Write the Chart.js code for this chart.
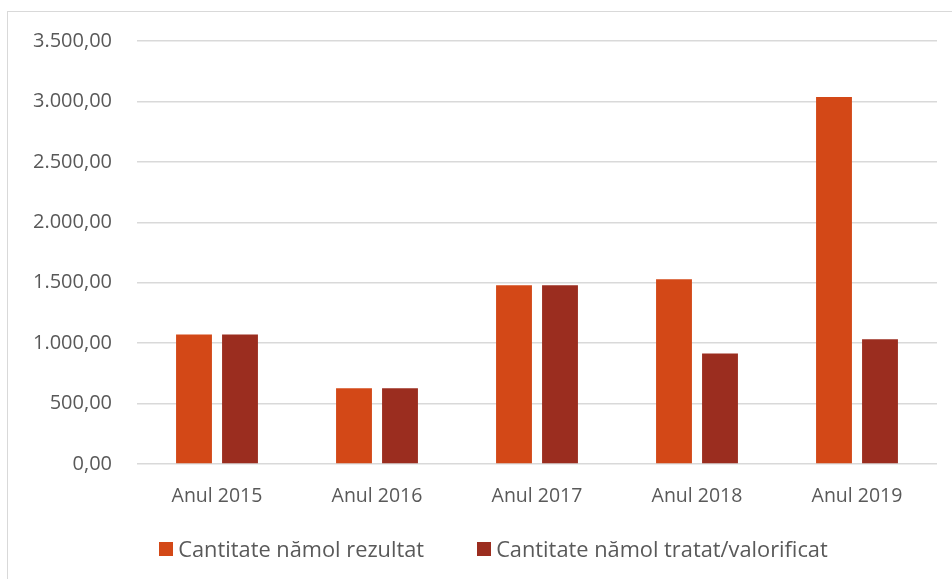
<!DOCTYPE html>
<html>
<head>
<meta charset="utf-8">
<script src="https://cdn.jsdelivr.net/npm/chart.js@4"></script>
<style>
    body { margin: 0; background: #fff; overflow: hidden; font-family: "Open Sans", sans-serif; }
    .frame { position: absolute; left: 7px; top: 11px; width: 1000px; height: 640px; border: 1px solid #d9d9d9; }
    .wrap { position: absolute; left: 0; top: 0; width: 952px; height: 579px; }
    #legend { position: absolute; left: 0; top: 536px; width: 987px; display: flex; justify-content: center; gap: 53px; color: #595959; font-size: 21.8px; line-height: 26px; }
    #legend .item { display: flex; align-items: center; white-space: nowrap; }
    #legend .box { width: 14px; height: 14px; margin-right: 5px; }
</style>
</head>
<body>
<div class="frame"></div>
<div class="wrap"><canvas id="namolChart" width="952" height="579"></canvas></div>
<div id="legend"></div>
<script>
const years = ['Anul 2015', 'Anul 2016', 'Anul 2017', 'Anul 2018', 'Anul 2019'];
const rezultat = [1072, 626, 1480, 1528, 3036];
const tratat = [1072, 626, 1480, 915, 1033];
const yTicks = [0, 500, 1000, 1500, 2000, 2500, 3000, 3500];

const textColor = '#595959';
const fontFamily = '"Open Sans", sans-serif';

// 3500 -> "3.500,00"
function fmt(v) {
    const parts = Number(v).toFixed(2).split('.');
    return parts[0].replace(/\B(?=(\d{3})+(?!\d))/g, '.') + ',' + parts[1];
}

const ctx = document.getElementById('namolChart').getContext('2d');
const chart = new Chart(ctx, {
    type: 'bar',
    data: {
        labels: years,
        datasets: [
            {
                label: 'Cantitate nămol rezultat',
                data: rezultat,
                backgroundColor: '#D34817',
                categoryPercentage: 0.575,
                barPercentage: 0.78
            },
            {
                label: 'Cantitate nămol tratat/valorificat',
                data: tratat,
                backgroundColor: '#9B2D1F',
                categoryPercentage: 0.575,
                barPercentage: 0.78
            }
        ]
    },
    options: {
        responsive: false,
        animation: false,
        layout: { padding: { left: 0, right: 15, top: 41, bottom: 65 } },
        plugins: {
            tooltip: { enabled: false },
            legend: { display: false }
        },
        scales: {
            y: {
                min: 0,
                max: 3500,
                afterBuildTicks: axis => { axis.ticks = yTicks.map(v => ({ value: v })); },
                afterFit: axis => { axis.width = 137; },
                border: { display: false },
                grid: { color: '#d9d9d9', lineWidth: 1.5, drawTicks: false },
                ticks: {
                    color: textColor,
                    padding: 25,
                    font: { family: fontFamily, size: 20 },
                    callback: v => fmt(v)
                }
            },
            x: {
                border: { display: false },
                grid: { display: false },
                afterFit: axis => { axis.height = 50; },
                ticks: {
                    color: textColor,
                    padding: 13,
                    font: { family: fontFamily, size: 19.5 }
                }
            }
        }
    }
});

// legend built from the datasets
const legendEl = document.getElementById('legend');
chart.data.datasets.forEach(ds => {
    const item = document.createElement('div');
    item.className = 'item';
    const box = document.createElement('span');
    box.className = 'box';
    box.style.background = ds.backgroundColor;
    item.appendChild(box);
    item.appendChild(document.createTextNode(ds.label));
    legendEl.appendChild(item);
});
</script>
</body>
</html>
